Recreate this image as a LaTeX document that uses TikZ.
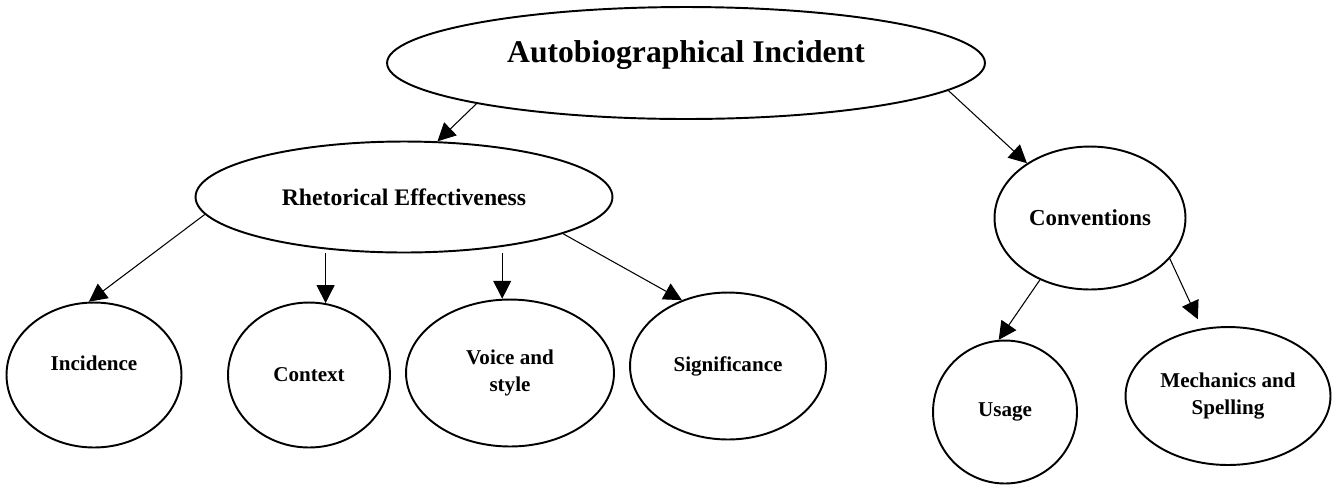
\documentclass[tikz,border=0pt]{standalone}
\usepackage{fontspec}
\setmainfont{Liberation Serif}
\usetikzlibrary{shapes.geometric,arrows.meta}
\tikzset{
  bubble/.style={ellipse, draw, line width=1.1pt, fill=white, inner sep=0pt,
    font=\bfseries\fontsize{12}{15}\selectfont, align=center},
  link/.style={line width=0.6pt, -{Triangle[length=0.36cm,width=0.36cm]}}
}

\begin{document}
\begin{tikzpicture}[x=0.02cm,y=-0.02cm]
			%%%%% START %%%%%
			\useasboundingbox (0,0) rectangle (1335,485);
			
			\node[bubble, minimum width=11.96cm, minimum height=2.24cm,
			  label={[font=\bfseries\fontsize{18}{21}\selectfont, yshift=0.16cm]center:Autobiographical Incident}] (autoinc) at (686,63) {};
			
			\node[bubble, minimum width=8.34cm, minimum height=2.22cm, font=\bfseries\fontsize{13.5}{16}\selectfont] (rhet) at (404,197) {Rhetorical Effectiveness};
			\node[bubble, minimum width=3.82cm, minimum height=2.86cm, font=\bfseries\fontsize{13}{16}\selectfont] (conv) at (1090,218) {Conventions};
			
			\node[bubble, minimum width=3.5cm, minimum height=2.9cm,
			  label={[font=\bfseries\fontsize{12}{15}\selectfont, yshift=0.24cm]center:Incidence}] (inc) at (94,375) {};
			\node[bubble, minimum width=3.24cm, minimum height=2.9cm] (ctx) at (309,375) {Context};
			\node[bubble, minimum width=4.16cm, minimum height=2.94cm] (voice) at (510,373) {Voice and\\style};
			\node[bubble, minimum width=3.92cm, minimum height=2.94cm] (sig) at (728,366) {Significance};
			
			\node[bubble, minimum width=2.88cm, minimum height=2.86cm] (usage) at (1005,412) {Usage};
			\node[bubble, minimum width=4.1cm, minimum height=2.76cm] (mech) at (1228,396) {Mechanics and\\Spelling};
			
			\draw[link] (autoinc.191.6) -- (rhet.59.2);
			\draw[link] (autoinc.354.8) -- (conv.139.7);
			
			\draw[link] (rhet.185.1) -- (inc.94.7);
			\draw[link] (ctx.77 |- rhet.south) -- (ctx.77);
			\draw[link] (voice.96 |- rhet.south) -- (voice.96);
			\draw[link] (rhet.347.8) -- (sig.125.3);
			
			\draw[link] (conv.231.7) -- (usage.95.4);
			\draw[link, shorten >=0.2cm] (conv.333.4) -- (mech.111);
			
			%%%%% END %%%%%
\end{tikzpicture}
\end{document}
